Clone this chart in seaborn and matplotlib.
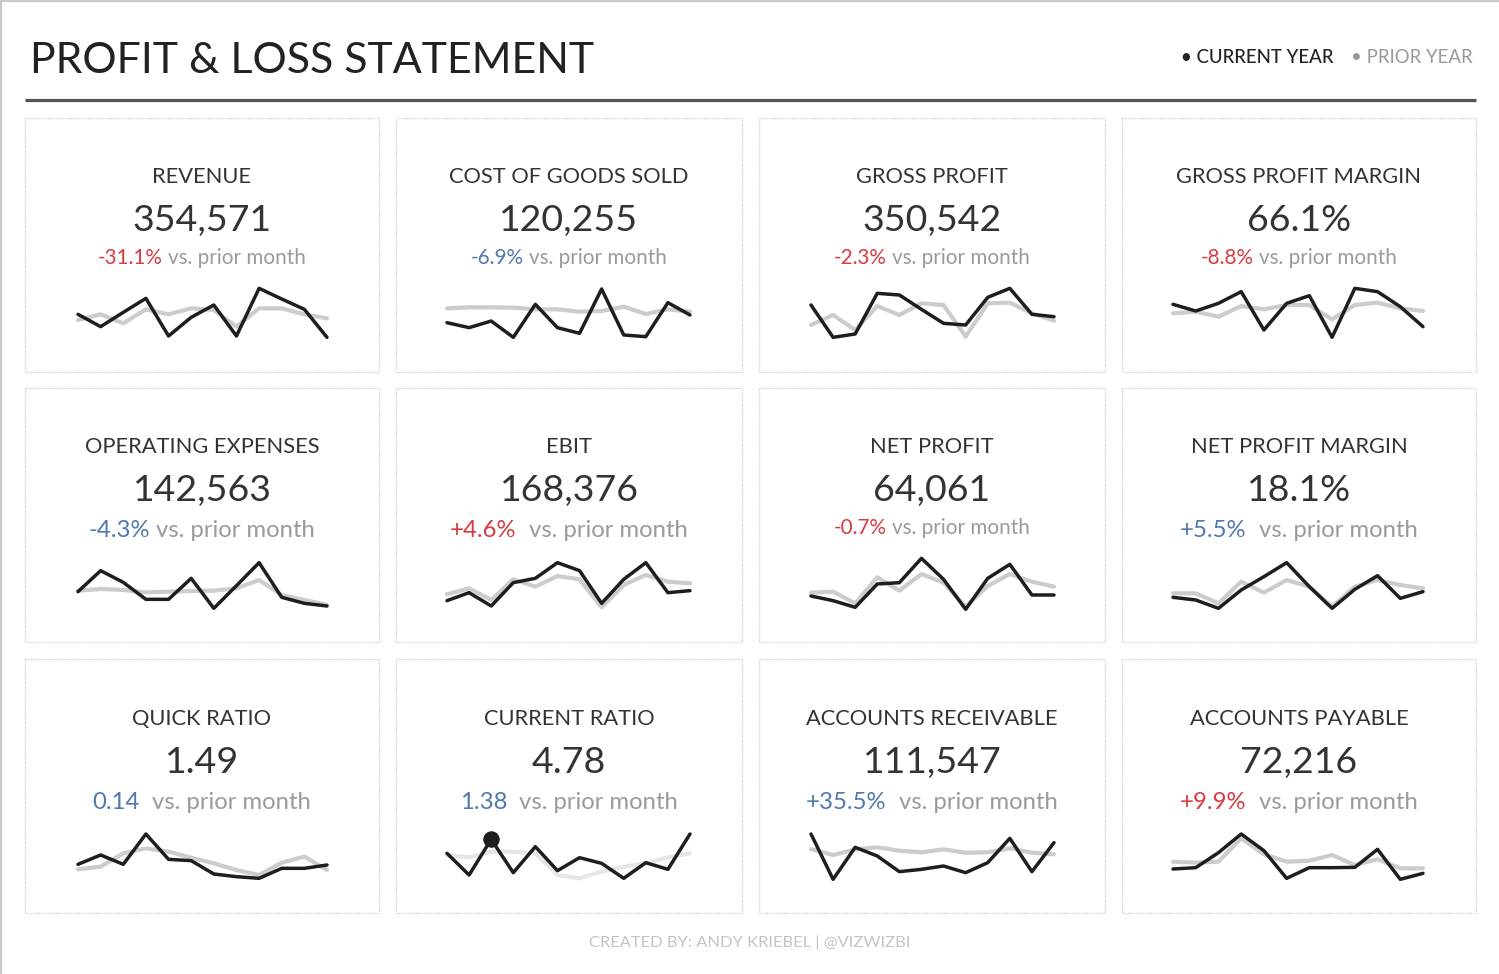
import matplotlib
matplotlib.use("Agg")
import matplotlib.pyplot as plt
import seaborn as sns
import pandas as pd
from matplotlib.patches import Rectangle

# ---------------- data ----------------
months = list(range(1, 13))

titles = ["REVENUE", "COST OF GOODS SOLD", "GROSS PROFIT", "GROSS PROFIT MARGIN",
          "OPERATING EXPENSES", "EBIT", "NET PROFIT", "NET PROFIT MARGIN",
          "QUICK RATIO", "CURRENT RATIO", "ACCOUNTS RECEIVABLE", "ACCOUNTS PAYABLE"]
kpi_values = ["354,571", "120,255", "350,542", "66.1%",
              "142,563", "168,376", "64,061", "18.1%",
              "1.49", "4.78", "111,547", "72,216"]
changes = ["-31.1%", "-6.9%", "-2.3%", "-8.8%",
           "-4.3%", "+4.6%", "-0.7%", "+5.5%",
           "0.14", "1.38", "+35.5%", "+9.9%"]
change_good = [False, True, False, False,
               True, False, False, True,
               True, True, True, False]

# sparkline indices (relative scale, current year vs prior year)
revenue_cy = [97, 60, 103, 145, 32, 88, 125, 32, 175, 143, 112, 28]
revenue_py = [80, 97, 70, 112, 97, 115, 110, 60, 115, 115, 97, 85]
cogs_cy = [72, 57, 77, 28, 127, 57, 40, 173, 35, 30, 132, 95]
cogs_py = [115, 118, 118, 117, 112, 112, 105, 107, 120, 98, 112, 105]
gross_profit_cy = [125, 28, 38, 160, 155, 112, 70, 65, 148, 175, 97, 90]
gross_profit_py = [65, 95, 50, 122, 95, 130, 125, 30, 130, 132, 100, 78]
gpm_cy = [127, 107, 130, 165, 50, 130, 153, 28, 175, 165, 120, 60]
gpm_py = [100, 105, 90, 122, 112, 125, 125, 82, 125, 132, 115, 107]
opex_cy = [75, 138, 103, 52, 52, 115, 25, 93, 162, 58, 40, 32]
opex_py = [78, 83, 80, 73, 75, 77, 78, 85, 110, 65, 50, 35]
ebit_cy = [48, 72, 32, 102, 115, 162, 138, 40, 112, 162, 72, 78]
ebit_py = [67, 85, 50, 112, 90, 122, 112, 28, 95, 125, 105, 100]
net_profit_cy = [62, 48, 28, 98, 102, 175, 112, 22, 115, 157, 65, 65]
net_profit_py = [72, 75, 40, 118, 78, 128, 102, 30, 92, 128, 105, 90]
npm_cy = [58, 50, 25, 80, 120, 162, 90, 25, 82, 123, 55, 75]
npm_py = [70, 70, 40, 105, 72, 110, 90, 30, 90, 110, 95, 85]
quick_ratio_cy = [67, 95, 67, 158, 82, 78, 38, 30, 25, 55, 55, 65]
quick_ratio_py = [52, 60, 100, 115, 105, 87, 70, 50, 35, 72, 90, 50]
current_ratio_cy = [100, 35, 142, 42, 120, 48, 87, 70, 25, 72, 52, 158]
current_ratio_py = [95, 88, 105, 105, 100, 35, 25, 45, 60, 70, 88, 100]
ar_cy = [158, 22, 118, 92, 45, 52, 62, 42, 72, 145, 45, 132]
ar_py = [113, 95, 112, 118, 108, 103, 112, 102, 103, 115, 102, 97]
ap_cy = [53, 57, 102, 158, 108, 25, 57, 57, 58, 112, 22, 40]
ap_py = [75, 72, 75, 145, 97, 75, 78, 95, 65, 82, 55, 55]

current_series = [revenue_cy, cogs_cy, gross_profit_cy, gpm_cy, opex_cy, ebit_cy,
                  net_profit_cy, npm_cy, quick_ratio_cy, current_ratio_cy, ar_cy, ap_cy]
prior_series = [revenue_py, cogs_py, gross_profit_py, gpm_py, opex_py, ebit_py,
                net_profit_py, npm_py, quick_ratio_py, current_ratio_py, ar_py, ap_py]
highlight_panel = 9      # current ratio has a highlighted point
highlight_month = 3

# ---------------- style ----------------
sns.set_style("white")
FONT = ["Lato", "DejaVu Sans"]
plt.rcParams["font.family"] = FONT

W, H = 1499, 974
fig = plt.figure(figsize=(W / 100, H / 100), dpi=100)
fig.patch.set_facecolor("white")
bg = fig.add_axes([0, 0, 1, 1])
bg.set_xlim(0, W)
bg.set_ylim(H, 0)
bg.axis("off")
renderer = fig.canvas.get_renderer()

RED = "#d93a3f"
BLUE = "#4f78ad"
GREYTXT = "#9a9a9a"
DARK = "#333333"


def width_px(txt, size, weight="normal"):
    t = bg.text(0, 0, txt, fontsize=size, fontweight=weight)
    w = t.get_window_extent(renderer).width
    t.remove()
    return w


def fit_size(txt, target, weight="normal"):
    return 20.0 * target / width_px(txt, 20.0, weight)


def space_w(size):
    return width_px("a a", size) - width_px("aa", size)


# outer frame (top / left light grey edge)
bg.plot([0, W], [1, 1], color="#c8c8c8", lw=1.6)
bg.plot([1, 1], [0, H], color="#c8c8c8", lw=1.6)

# title
ts = fit_size("PROFIT & LOSS STATEMENT", 563)
bg.text(30, 73, "PROFIT & LOSS STATEMENT", fontsize=ts,
        color="#222222", va="baseline", ha="left")

# legend
ls = fit_size("• CURRENT YEAR", 153, "medium")
bg.text(1181, 63, "• CURRENT YEAR", fontsize=ls, fontweight="medium",
        color="#222222", va="baseline", ha="left")
bg.text(1473, 63, "• PRIOR YEAR", fontsize=ls, color="#999999",
        va="baseline", ha="right")

# rule
bg.plot([25, 1476], [100, 100], color="#555555", lw=2.3, solid_capstyle="butt")

# panel geometry
col_x = [(25, 379), (396, 742), (759, 1105), (1122, 1476)]
row_y = [(118, 372), (388, 642), (659, 913)]
spark_x = [(78, 327), (447, 690), (811, 1054), (1173, 1423)]
spark_top = [280, 550, 820]
title_base = [183, 453, 725]
value_base = [231, 501, 773]
change_base = [264, 537, 809]

title_size = fit_size("ACCOUNTS RECEIVABLE", 252)
value_size = fit_size("354,571", 139)
small_size = fit_size("-31.1% vs. prior month", 208)
large_size = fit_size("+4.6%  vs. prior month", 238)

for i in range(12):
    r, c = divmod(i, 4)
    x0, x1 = col_x[c]
    y0, y1 = row_y[r]
    bg.add_patch(Rectangle((x0, y0), x1 - x0, y1 - y0, fill=False,
                           edgecolor="#cfcfcf", lw=0.9, linestyle=(0, (1, 1))))
    cx = (x0 + x1) / 2
    bg.text(cx, title_base[r], titles[i], fontsize=title_size,
            color=DARK, ha="center", va="baseline")
    bg.text(cx, value_base[r], kpi_values[i], fontsize=value_size,
            color=DARK, ha="center", va="baseline")

    small = (r == 0) or (i == 6)
    size = small_size if small else large_size
    nsp = 1 if (small or i == 4) else 2
    a = changes[i]
    b = "vs. prior month"
    wa = width_px(a, size)
    wb = width_px(b, size)
    gap = nsp * space_w(size)
    xs = cx - (wa + gap + wb) / 2
    yb = change_base[r] - (3 if i == 6 else 0)
    bg.text(xs, yb, a, fontsize=size, color=BLUE if change_good[i] else RED,
            ha="left", va="baseline")
    bg.text(xs + wa + gap, yb, b, fontsize=size, color=GREYTXT,
            ha="left", va="baseline")

    # sparkline
    sx0, sx1 = spark_x[c]
    top = spark_top[r]
    h = 200 / 3.0
    ax = fig.add_axes([sx0 / W, 1 - (top + h) / H, (sx1 - sx0) / W, h / H])
    ax.set_xlim(1, 12)
    ax.set_ylim(0, 200)
    ax.axis("off")
    df = pd.DataFrame({"month": months * 2,
                       "value": prior_series[i] + current_series[i],
                       "series": ["Prior year"] * 12 + ["Current year"] * 12})
    prior_col = "#e6e6e6" if i == highlight_panel else "#cccccc"
    sns.lineplot(data=df[df.series == "Prior year"], x="month", y="value",
                 ax=ax, color=prior_col, lw=3.0, legend=False)
    sns.lineplot(data=df[df.series == "Current year"], x="month", y="value",
                 ax=ax, color="#1e1e1e", lw=2.5, legend=False)
    for ln in ax.lines:
        ln.set_clip_on(False)
    if i == highlight_panel:
        sub = df[(df.series == "Current year") & (df.month == highlight_month)]
        sns.scatterplot(data=sub, x="month", y="value", ax=ax, s=120,
                        color="#1e1e1e", edgecolor="#1e1e1e", legend=False,
                        clip_on=False, zorder=5)
    ax.set_xlabel("")
    ax.set_ylabel("")

# footer
fs = fit_size("CREATED BY: ANDY KRIEBEL | @VIZWIZBI", 320)
bg.text(750, 947, "CREATED BY: ANDY KRIEBEL | @VIZWIZBI", fontsize=fs,
        color="#c4c4c4", ha="center", va="baseline")

fig.savefig("out.png", dpi=100, facecolor="white")
